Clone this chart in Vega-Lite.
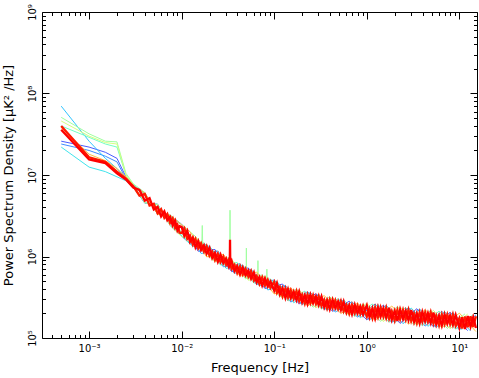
{
"$schema":"https://vega.github.io/schema/vega-lite/v6.json",
"width":435,"height":326,
"autosize":{"type":"none"},
"padding":{"left":42,"top":12,"right":2,"bottom":40},
"data":{"values":[
{"run":1,"f":0.0005,"p":2.6e7},{"run":1,"f":0.001,"p":2.2e7},{"run":1,"f":0.0015,"p":1.9e7},{"run":1,"f":0.002,"p":1.6e7},{"run":1,"f":0.0025,"p":9.5e6},{"run":1,"f":0.003,"p":7.5e6},{"run":1,"f":0.004,"p":6.0e6},{"run":1,"f":0.0055,"p":3.3e6},{"run":1,"f":0.0075,"p":3.2e6},
{"run":1,"f":0.01,"p":2.49e6},{"run":1,"f":0.0151,"p":1.16e6},{"run":1,"f":0.0229,"p":1.22e6},{"run":1,"f":0.0347,"p":6.51e5},{"run":1,"f":0.0525,"p":7.24e5},{"run":1,"f":0.0794,"p":4.05e5},{"run":1,"f":0.123,"p":4.59e5},{"run":1,"f":0.186,"p":2.62e5},{"run":1,"f":0.282,"p":3.50e5},{"run":1,"f":0.427,"p":2.12e5},{"run":1,"f":0.646,"p":2.83e5},{"run":1,"f":1.0,"p":1.67e5},{"run":1,"f":1.51,"p":2.53e5},{"run":1,"f":2.29,"p":1.51e5},{"run":1,"f":3.47,"p":2.29e5},{"run":1,"f":5.25,"p":1.37e5},{"run":1,"f":7.94,"p":2.07e5},{"run":1,"f":12.3,"p":1.23e5},
{"run":2,"f":0.0005,"p":2.4e7},{"run":2,"f":0.001,"p":2.0e7},{"run":2,"f":0.0015,"p":1.7e7},{"run":2,"f":0.002,"p":1.45e7},{"run":2,"f":0.0025,"p":9.0e6},{"run":2,"f":0.003,"p":7.2e6},{"run":2,"f":0.004,"p":4.5e6},{"run":2,"f":0.0055,"p":4.4e6},{"run":2,"f":0.0075,"p":2.4e6},
{"run":2,"f":0.0123,"p":1.43e6},{"run":2,"f":0.0186,"p":1.40e6},{"run":2,"f":0.0282,"p":7.48e5},{"run":2,"f":0.0427,"p":8.14e5},{"run":2,"f":0.0646,"p":4.54e5},{"run":2,"f":0.100,"p":5.16e5},{"run":2,"f":0.151,"p":2.76e5},{"run":2,"f":0.229,"p":3.70e5},{"run":2,"f":0.347,"p":2.23e5},{"run":2,"f":0.525,"p":2.98e5},{"run":2,"f":0.794,"p":1.80e5},{"run":2,"f":1.23,"p":2.61e5},{"run":2,"f":1.86,"p":1.55e5},{"run":2,"f":2.82,"p":2.36e5},{"run":2,"f":4.27,"p":1.40e5},{"run":2,"f":6.46,"p":2.13e5},{"run":2,"f":10.0,"p":1.26e5},{"run":2,"f":15.1,"p":1.92e5},
{"run":3,"f":0.0005,"p":7.0e7},{"run":3,"f":0.001,"p":2.6e7},{"run":3,"f":0.0015,"p":1.6e7},{"run":3,"f":0.002,"p":1.2e7},{"run":3,"f":0.0025,"p":9.0e6},{"run":3,"f":0.003,"p":7.0e6},{"run":3,"f":0.004,"p":5.9e6},{"run":3,"f":0.0055,"p":3.4e6},{"run":3,"f":0.0075,"p":3.1e6},
{"run":3,"f":0.0107,"p":2.32e6},{"run":3,"f":0.0162,"p":1.09e6},{"run":3,"f":0.0246,"p":1.17e6},{"run":3,"f":0.0372,"p":6.22e5},{"run":3,"f":0.0562,"p":6.96e5},{"run":3,"f":0.0851,"p":3.89e5},{"run":3,"f":0.132,"p":4.40e5},{"run":3,"f":0.200,"p":2.57e5},{"run":3,"f":0.302,"p":3.44e5},{"run":3,"f":0.457,"p":2.08e5},{"run":3,"f":0.692,"p":2.78e5},{"run":3,"f":1.07,"p":1.66e5},{"run":3,"f":1.62,"p":2.52e5},{"run":3,"f":2.46,"p":1.50e5},{"run":3,"f":3.72,"p":2.27e5},{"run":3,"f":5.62,"p":1.35e5},{"run":3,"f":8.51,"p":2.05e5},{"run":3,"f":13.2,"p":1.22e5},
{"run":4,"f":0.0005,"p":2.2e7},{"run":4,"f":0.001,"p":1.25e7},{"run":4,"f":0.0015,"p":1.1e7},{"run":4,"f":0.002,"p":9.5e6},{"run":4,"f":0.0025,"p":8.5e6},{"run":4,"f":0.003,"p":7.0e6},{"run":4,"f":0.004,"p":4.6e6},{"run":4,"f":0.0055,"p":4.3e6},{"run":4,"f":0.0075,"p":2.45e6},
{"run":4,"f":0.0132,"p":1.33e6},{"run":4,"f":0.0200,"p":1.34e6},{"run":4,"f":0.0302,"p":7.15e5},{"run":4,"f":0.0457,"p":7.83e5},{"run":4,"f":0.0692,"p":4.38e5},{"run":4,"f":0.107,"p":4.95e5},{"run":4,"f":0.162,"p":2.71e5},{"run":4,"f":0.246,"p":3.62e5},{"run":4,"f":0.372,"p":2.19e5},{"run":4,"f":0.562,"p":2.93e5},{"run":4,"f":0.851,"p":1.77e5},{"run":4,"f":1.32,"p":2.58e5},{"run":4,"f":2.00,"p":1.54e5},{"run":4,"f":3.02,"p":2.33e5},{"run":4,"f":4.57,"p":1.39e5},{"run":4,"f":6.92,"p":2.10e5},{"run":4,"f":10.7,"p":1.26e5},
{"run":5,"f":0.0005,"p":4.0e7},{"run":5,"f":0.001,"p":2.9e7},{"run":5,"f":0.0015,"p":2.4e7},{"run":5,"f":0.002,"p":2.2e7},{"run":5,"f":0.0025,"p":1.0e7},{"run":5,"f":0.003,"p":7.5e6},{"run":5,"f":0.004,"p":5.8e6},{"run":5,"f":0.0055,"p":3.35e6},{"run":5,"f":0.0075,"p":3.15e6},
{"run":5,"f":0.0115,"p":1.53e6},{"run":5,"f":0.0174,"p":1.47e6},{"run":5,"f":0.0263,"p":7.84e5},{"run":5,"f":0.0398,"p":8.46e5},{"run":5,"f":0.0603,"p":4.72e5},{"run":5,"f":0.0912,"p":5.31e5},{"run":5,"f":0.141,"p":2.85e5},{"run":5,"f":0.214,"p":3.76e5},{"run":5,"f":0.324,"p":2.27e5},{"run":5,"f":0.490,"p":3.04e5},{"run":5,"f":0.741,"p":1.84e5},{"run":5,"f":1.15,"p":2.62e5},{"run":5,"f":1.74,"p":1.56e5},{"run":5,"f":2.63,"p":2.37e5},{"run":5,"f":3.98,"p":1.41e5},{"run":5,"f":6.03,"p":2.14e5},{"run":5,"f":9.12,"p":1.28e5},{"run":5,"f":14.1,"p":1.94e5},
{"run":6,"f":0.0005,"p":5.1e7},{"run":6,"f":0.001,"p":3.2e7},{"run":6,"f":0.0015,"p":2.6e7},{"run":6,"f":0.002,"p":2.55e7},{"run":6,"f":0.0025,"p":1.05e7},{"run":6,"f":0.003,"p":7.8e6},{"run":6,"f":0.004,"p":6.1e6},{"run":6,"f":0.0055,"p":3.3e6},{"run":6,"f":0.0075,"p":3.25e6},
{"run":6,"f":0.0141,"p":1.76e6},{"run":6,"f":0.0165,"p":1.37e6},{"run":6,"f":0.0167,"p":2.4e6},{"run":6,"f":0.0169,"p":1.32e6},{"run":6,"f":0.0214,"p":9.04e5},{"run":6,"f":0.0324,"p":9.65e5},{"run":6,"f":0.0331,"p":9.36e5},{"run":6,"f":0.0333,"p":3.7e6},{"run":6,"f":0.0335,"p":9.2e5},{"run":6,"f":0.0490,"p":5.31e5},{"run":6,"f":0.0498,"p":5.35e5},{"run":6,"f":0.05,"p":1.27e6},{"run":6,"f":0.0502,"p":5.37e5},{"run":6,"f":0.0665,"p":5.78e5},{"run":6,"f":0.0667,"p":8.9e5},{"run":6,"f":0.0669,"p":5.77e5},{"run":6,"f":0.0741,"p":5.96e5},{"run":6,"f":0.0831,"p":5.07e5},{"run":6,"f":0.0833,"p":7.0e5},{"run":6,"f":0.0835,"p":5.04e5},{"run":6,"f":0.115,"p":3.21e5},{"run":6,"f":0.174,"p":3.97e5},{"run":6,"f":0.263,"p":2.39e5},{"run":6,"f":0.398,"p":3.20e5},{"run":6,"f":0.603,"p":1.94e5},{"run":6,"f":0.912,"p":2.61e5},{"run":6,"f":1.41,"p":1.60e5},{"run":6,"f":2.14,"p":2.43e5},{"run":6,"f":3.24,"p":1.45e5},{"run":6,"f":4.90,"p":2.19e5},{"run":6,"f":7.41,"p":1.31e5},{"run":6,"f":11.5,"p":1.98e5},
{"run":7,"f":0.0005,"p":4.6e7},{"run":7,"f":0.001,"p":3.0e7},{"run":7,"f":0.0015,"p":2.5e7},{"run":7,"f":0.002,"p":2.4e7},{"run":7,"f":0.0025,"p":1.0e7},{"run":7,"f":0.003,"p":7.6e6},{"run":7,"f":0.004,"p":4.55e6},{"run":7,"f":0.0055,"p":4.35e6},{"run":7,"f":0.0075,"p":2.4e6},
{"run":7,"f":0.01,"p":1.75e6},{"run":7,"f":0.0151,"p":1.64e6},{"run":7,"f":0.0229,"p":8.62e5},{"run":7,"f":0.0347,"p":9.22e5},{"run":7,"f":0.0525,"p":5.11e5},{"run":7,"f":0.0794,"p":5.74e5},{"run":7,"f":0.123,"p":3.08e5},{"run":7,"f":0.186,"p":3.89e5},{"run":7,"f":0.282,"p":2.35e5},{"run":7,"f":0.427,"p":3.15e5},{"run":7,"f":0.646,"p":1.90e5},{"run":7,"f":1.0,"p":2.67e5},{"run":7,"f":1.51,"p":1.59e5},{"run":7,"f":2.29,"p":2.41e5},{"run":7,"f":3.47,"p":1.44e5},{"run":7,"f":5.25,"p":2.18e5},{"run":7,"f":7.94,"p":1.30e5},{"run":7,"f":12.3,"p":1.97e5},
{"run":8,"f":0.0005,"p":3.8e7},{"run":8,"f":0.001,"p":1.8e7},{"run":8,"f":0.0015,"p":1.5e7},{"run":8,"f":0.002,"p":1.2e7},{"run":8,"f":0.0025,"p":9.5e6},{"run":8,"f":0.003,"p":7.3e6},{"run":8,"f":0.004,"p":6.0e6},{"run":8,"f":0.0055,"p":3.3e6},{"run":8,"f":0.0075,"p":3.2e6},
{"run":8,"f":0.0123,"p":2.02e6},{"run":8,"f":0.0186,"p":9.91e5},{"run":8,"f":0.0282,"p":1.06e6},{"run":8,"f":0.0427,"p":5.75e5},{"run":8,"f":0.0646,"p":6.44e5},{"run":8,"f":0.100,"p":3.47e5},{"run":8,"f":0.151,"p":4.11e5},{"run":8,"f":0.229,"p":2.48e5},{"run":8,"f":0.347,"p":3.32e5},{"run":8,"f":0.525,"p":2.00e5},{"run":8,"f":0.794,"p":2.68e5},{"run":8,"f":1.23,"p":1.64e5},{"run":8,"f":1.86,"p":2.47e5},{"run":8,"f":2.82,"p":1.48e5},{"run":8,"f":4.27,"p":2.23e5},{"run":8,"f":6.46,"p":1.34e5},{"run":8,"f":10.0,"p":2.02e5},{"run":8,"f":15.1,"p":1.20e5},
{"run":9,"f":0.0005,"p":4.0e7},{"run":9,"f":0.001,"p":1.65e7},{"run":9,"f":0.0015,"p":1.45e7},{"run":9,"f":0.002,"p":1.1e7},{"run":9,"f":0.0025,"p":9.0e6},{"run":9,"f":0.003,"p":7.3e6},{"run":9,"f":0.0035,"p":5.57e6},{"run":9,"f":0.004,"p":5.87e6},{"run":9,"f":0.0045,"p":4.23e6},{"run":9,"f":0.005,"p":4.43e6},{"run":9,"f":0.0055,"p":3.39e6},{"run":9,"f":0.006,"p":3.81e6},{"run":9,"f":0.0065,"p":2.97e6},{"run":9,"f":0.007,"p":3.32e6},{"run":9,"f":0.0075,"p":2.60e6},{"run":9,"f":0.008,"p":2.93e6},{"run":9,"f":0.0085,"p":2.24e6},{"run":9,"f":0.009,"p":2.46e6},{"run":9,"f":0.0095,"p":1.96e6},
{"run":9,"f":0.0100,"p":1.94e6},{"run":9,"f":0.0107,"p":2.21e6},{"run":9,"f":0.0115,"p":1.65e6},{"run":9,"f":0.0123,"p":1.81e6},{"run":9,"f":0.0132,"p":1.40e6},{"run":9,"f":0.0141,"p":1.64e6},{"run":9,"f":0.0151,"p":1.26e6},{"run":9,"f":0.0162,"p":1.45e6},{"run":9,"f":0.0174,"p":1.15e6},{"run":9,"f":0.0186,"p":1.34e6},{"run":9,"f":0.0200,"p":1.02e6},{"run":9,"f":0.0214,"p":1.15e6},{"run":9,"f":0.0229,"p":9.04e5},{"run":9,"f":0.0246,"p":1.08e6},{"run":9,"f":0.0263,"p":8.54e5},{"run":9,"f":0.0282,"p":9.99e5},{"run":9,"f":0.0302,"p":7.89e5},{"run":9,"f":0.0324,"p":9.20e5},{"run":9,"f":0.0347,"p":7.01e5},{"run":9,"f":0.0372,"p":7.88e5},{"run":9,"f":0.0398,"p":6.26e5},{"run":9,"f":0.0427,"p":7.57e5},{"run":9,"f":0.0457,"p":6.02e5},{"run":9,"f":0.0490,"p":7.08e5},{"run":9,"f":0.0525,"p":5.64e5},{"run":9,"f":0.0562,"p":6.64e5},{"run":9,"f":0.0603,"p":5.08e5},{"run":9,"f":0.0646,"p":5.76e5},{"run":9,"f":0.0692,"p":4.59e5},{"run":9,"f":0.0741,"p":5.55e5},{"run":9,"f":0.0794,"p":4.41e5},{"run":9,"f":0.0851,"p":5.19e5},{"run":9,"f":0.0912,"p":4.13e5},
{"run":9,"f":0.100,"p":4.91e5},{"run":9,"f":0.107,"p":3.60e5},{"run":9,"f":0.115,"p":4.21e5},{"run":9,"f":0.123,"p":3.24e5},{"run":9,"f":0.132,"p":4.07e5},{"run":9,"f":0.141,"p":3.13e5},{"run":9,"f":0.151,"p":3.85e5},{"run":9,"f":0.162,"p":3.03e5},{"run":9,"f":0.174,"p":3.77e5},{"run":9,"f":0.186,"p":2.83e5},{"run":9,"f":0.200,"p":3.39e5},{"run":9,"f":0.214,"p":2.65e5},{"run":9,"f":0.229,"p":3.41e5},{"run":9,"f":0.246,"p":2.68e5},{"run":9,"f":0.263,"p":3.35e5},{"run":9,"f":0.282,"p":2.62e5},{"run":9,"f":0.302,"p":3.27e5},{"run":9,"f":0.324,"p":2.46e5},{"run":9,"f":0.347,"p":2.94e5},{"run":9,"f":0.372,"p":2.30e5},{"run":9,"f":0.398,"p":2.96e5},{"run":9,"f":0.427,"p":2.33e5},{"run":9,"f":0.457,"p":2.90e5},{"run":9,"f":0.490,"p":2.27e5},{"run":9,"f":0.525,"p":2.84e5},{"run":9,"f":0.562,"p":2.13e5},{"run":9,"f":0.603,"p":2.54e5},{"run":9,"f":0.646,"p":1.99e5},{"run":9,"f":0.692,"p":2.56e5},{"run":9,"f":0.741,"p":2.02e5},{"run":9,"f":0.794,"p":2.51e5},{"run":9,"f":0.851,"p":1.98e5},{"run":9,"f":0.912,"p":2.48e5},
{"run":9,"f":1.00,"p":1.84e5},{"run":9,"f":1.07,"p":2.29e5},{"run":9,"f":1.15,"p":1.75e5},{"run":9,"f":1.23,"p":2.37e5},{"run":9,"f":1.32,"p":1.81e5},{"run":9,"f":1.41,"p":2.37e5},{"run":9,"f":1.51,"p":1.82e5},{"run":9,"f":1.62,"p":2.37e5},{"run":9,"f":1.74,"p":1.72e5},{"run":9,"f":1.86,"p":2.14e5},{"run":9,"f":2.00,"p":1.64e5},{"run":9,"f":2.14,"p":2.21e5},{"run":9,"f":2.29,"p":1.70e5},{"run":9,"f":2.46,"p":2.22e5},{"run":9,"f":2.63,"p":1.69e5},{"run":9,"f":2.82,"p":2.22e5},{"run":9,"f":3.02,"p":1.61e5},{"run":9,"f":3.24,"p":2.00e5},{"run":9,"f":3.47,"p":1.53e5},{"run":9,"f":3.72,"p":2.07e5},{"run":9,"f":3.98,"p":1.58e5},{"run":9,"f":4.27,"p":2.07e5},{"run":9,"f":4.57,"p":1.59e5},{"run":9,"f":4.90,"p":2.07e5},{"run":9,"f":5.25,"p":1.50e5},{"run":9,"f":5.62,"p":1.87e5},{"run":9,"f":6.03,"p":1.43e5},{"run":9,"f":6.46,"p":1.94e5},{"run":9,"f":6.92,"p":1.48e5},{"run":9,"f":7.41,"p":1.94e5},{"run":9,"f":7.94,"p":1.48e5},{"run":9,"f":8.51,"p":1.94e5},{"run":9,"f":9.12,"p":1.41e5},
{"run":9,"f":10.0,"p":1.76e5},{"run":9,"f":10.7,"p":1.31e5},{"run":9,"f":11.5,"p":1.84e5},{"run":9,"f":12.3,"p":1.36e5},{"run":9,"f":13.2,"p":1.85e5},{"run":9,"f":14.1,"p":1.37e5},{"run":9,"f":15.1,"p":1.85e5},
{"run":10,"f":0.0005,"p":3.6e7},{"run":10,"f":0.001,"p":1.55e7},{"run":10,"f":0.0015,"p":1.4e7},{"run":10,"f":0.002,"p":1.05e7},{"run":10,"f":0.0025,"p":8.8e6},{"run":10,"f":0.003,"p":7.0e6},{"run":10,"f":0.0035,"p":6.54e6},{"run":10,"f":0.004,"p":4.83e6},{"run":10,"f":0.0045,"p":5.21e6},{"run":10,"f":0.005,"p":3.77e6},{"run":10,"f":0.0055,"p":4.07e6},{"run":10,"f":0.006,"p":3.10e6},{"run":10,"f":0.0065,"p":3.57e6},{"run":10,"f":0.007,"p":2.79e6},{"run":10,"f":0.0075,"p":3.06e6},{"run":10,"f":0.008,"p":2.41e6},{"run":10,"f":0.0085,"p":2.76e6},{"run":10,"f":0.009,"p":2.09e6},{"run":10,"f":0.0095,"p":2.36e6},
{"run":10,"f":0.0100,"p":2.31e6},{"run":10,"f":0.0107,"p":1.78e6},{"run":10,"f":0.0115,"p":2.07e6},{"run":10,"f":0.0123,"p":1.51e6},{"run":10,"f":0.0132,"p":1.71e6},{"run":10,"f":0.0141,"p":1.30e6},{"run":10,"f":0.0151,"p":1.55e6},{"run":10,"f":0.0162,"p":1.20e6},{"run":10,"f":0.0174,"p":1.37e6},{"run":10,"f":0.0186,"p":1.08e6},{"run":10,"f":0.0200,"p":1.28e6},{"run":10,"f":0.0214,"p":9.60e5},{"run":10,"f":0.0229,"p":1.11e6},{"run":10,"f":0.0246,"p":8.63e5},{"run":10,"f":0.0263,"p":1.05e6},{"run":10,"f":0.0282,"p":8.26e5},{"run":10,"f":0.0302,"p":9.42e5},{"run":10,"f":0.0324,"p":7.42e5},{"run":10,"f":0.0331,"p":7.8e5},{"run":10,"f":0.0333,"p":1.6e6},{"run":10,"f":0.0335,"p":8.0e5},{"run":10,"f":0.0347,"p":8.80e5},{"run":10,"f":0.0372,"p":6.60e5},{"run":10,"f":0.0398,"p":7.67e5},{"run":10,"f":0.0427,"p":6.03e5},{"run":10,"f":0.0457,"p":7.38e5},{"run":10,"f":0.0490,"p":5.86e5},{"run":10,"f":0.0525,"p":6.73e5},{"run":10,"f":0.0562,"p":5.35e5},{"run":10,"f":0.0603,"p":6.38e5},{"run":10,"f":0.0646,"p":4.83e5},{"run":10,"f":0.0692,"p":5.62e5},{"run":10,"f":0.0741,"p":4.41e5},{"run":10,"f":0.0794,"p":5.40e5},{"run":10,"f":0.0851,"p":4.29e5},{"run":10,"f":0.0912,"p":4.94e5},
{"run":10,"f":0.100,"p":3.81e5},{"run":10,"f":0.107,"p":4.72e5},{"run":10,"f":0.115,"p":3.42e5},{"run":10,"f":0.123,"p":4.11e5},{"run":10,"f":0.132,"p":3.11e5},{"run":10,"f":0.141,"p":3.98e5},{"run":10,"f":0.151,"p":3.08e5},{"run":10,"f":0.162,"p":3.73e5},{"run":10,"f":0.174,"p":2.93e5},{"run":10,"f":0.186,"p":3.71e5},{"run":10,"f":0.200,"p":2.75e5},{"run":10,"f":0.214,"p":3.37e5},{"run":10,"f":0.229,"p":2.61e5},{"run":10,"f":0.246,"p":3.40e5},{"run":10,"f":0.263,"p":2.67e5},{"run":10,"f":0.282,"p":3.24e5},{"run":10,"f":0.302,"p":2.54e5},{"run":10,"f":0.324,"p":3.22e5},{"run":10,"f":0.347,"p":2.38e5},{"run":10,"f":0.372,"p":2.92e5},{"run":10,"f":0.398,"p":2.26e5},{"run":10,"f":0.427,"p":2.95e5},{"run":10,"f":0.457,"p":2.32e5},{"run":10,"f":0.490,"p":2.81e5},{"run":10,"f":0.525,"p":2.20e5},{"run":10,"f":0.562,"p":2.79e5},{"run":10,"f":0.603,"p":2.06e5},{"run":10,"f":0.646,"p":2.53e5},{"run":10,"f":0.692,"p":1.96e5},{"run":10,"f":0.741,"p":2.56e5},{"run":10,"f":0.794,"p":2.01e5},{"run":10,"f":0.851,"p":2.44e5},{"run":10,"f":0.912,"p":1.93e5},
{"run":10,"f":1.00,"p":2.52e5},{"run":10,"f":1.07,"p":1.80e5},{"run":10,"f":1.15,"p":2.31e5},{"run":10,"f":1.23,"p":1.74e5},{"run":10,"f":1.32,"p":2.39e5},{"run":10,"f":1.41,"p":1.83e5},{"run":10,"f":1.51,"p":2.31e5},{"run":10,"f":1.62,"p":1.77e5},{"run":10,"f":1.74,"p":2.35e5},{"run":10,"f":1.86,"p":1.68e5},{"run":10,"f":2.00,"p":2.16e5},{"run":10,"f":2.14,"p":1.62e5},{"run":10,"f":2.29,"p":2.24e5},{"run":10,"f":2.46,"p":1.71e5},{"run":10,"f":2.63,"p":2.16e5},{"run":10,"f":2.82,"p":1.65e5},{"run":10,"f":3.02,"p":2.20e5},{"run":10,"f":3.24,"p":1.57e5},{"run":10,"f":3.47,"p":2.01e5},{"run":10,"f":3.72,"p":1.52e5},{"run":10,"f":3.98,"p":2.09e5},{"run":10,"f":4.27,"p":1.60e5},{"run":10,"f":4.57,"p":2.02e5},{"run":10,"f":4.90,"p":1.54e5},{"run":10,"f":5.25,"p":2.05e5},{"run":10,"f":5.62,"p":1.47e5},{"run":10,"f":6.03,"p":1.88e5},{"run":10,"f":6.46,"p":1.42e5},{"run":10,"f":6.92,"p":1.95e5},{"run":10,"f":7.41,"p":1.50e5},{"run":10,"f":7.94,"p":1.89e5},{"run":10,"f":8.51,"p":1.45e5},{"run":10,"f":9.12,"p":1.92e5},
{"run":10,"f":10.0,"p":1.34e5},{"run":10,"f":10.7,"p":1.79e5},{"run":10,"f":11.5,"p":1.29e5},{"run":10,"f":12.3,"p":1.86e5},{"run":10,"f":13.2,"p":1.38e5},{"run":10,"f":14.1,"p":1.80e5},{"run":10,"f":15.1,"p":1.33e5}
]},
"layer":[
{"mark":{"type":"line","clip":true},
 "encoding":{
  "x":{"field":"f","type":"quantitative","scale":{"type":"log","domain":[0.00031,15.5],"nice":false},
   "axis":{"orient":"bottom","title":"Frequency [Hz]","titlePadding":5,
    "values":[0.0004,0.0005,0.0006,0.0007,0.0008,0.0009,0.001,0.002,0.003,0.004,0.005,0.006,0.007,0.008,0.009,0.01,0.02,0.03,0.04,0.05,0.06,0.07,0.08,0.09,0.1,0.2,0.3,0.4,0.5,0.6,0.7,0.8,0.9,1,2,3,4,5,6,7,8,9,10],
    "labelExpr":"datum.value==0.001?'10⁻³':datum.value==0.01?'10⁻²':datum.value==0.1?'10⁻¹':datum.value==1?'10⁰':datum.value==10?'10¹':''",
    "tickSize":{"condition":{"test":"indexof([0.001,0.01,0.1,1,10],datum.value)>=0","value":-7},"value":-3.5},
    "labelPadding":12}},
  "y":{"field":"p","type":"quantitative","scale":{"type":"log","domain":[100000,1000000000],"nice":false},
   "axis":{"orient":"left","title":"Power Spectrum Density [μK² /Hz]","titlePadding":8,"labelAngle":-90,
    "values":[100000,200000,300000,400000,500000,600000,700000,800000,900000,1000000,2000000,3000000,4000000,5000000,6000000,7000000,8000000,9000000,10000000,20000000,30000000,40000000,50000000,60000000,70000000,80000000,90000000,100000000,200000000,300000000,400000000,500000000,600000000,700000000,800000000,900000000,1000000000],
    "labelExpr":"datum.value==100000?'10⁵':datum.value==1000000?'10⁶':datum.value==10000000?'10⁷':datum.value==100000000?'10⁸':datum.value==1000000000?'10⁹':''",
    "tickSize":{"condition":{"test":"indexof([100000,1000000,10000000,100000000,1000000000],datum.value)>=0","value":-7},"value":-3.5},
    "labelPadding":12}},
  "color":{"field":"run","type":"nominal","legend":null,
   "scale":{"domain":[1,2,3,4,5,6,7,8,9,10],"range":["#4a5cff","#3f8cff","#30c4ff","#40e4ec","#70ffc4","#a0ffa0","#d4ff80","#ffc040","#ff1a00","#ff0000"]}},
  "strokeWidth":{"condition":{"test":"datum.run>=9","value":2.3},"value":1}
 }},
{"mark":{"type":"point","opacity":0},
 "encoding":{
  "x":{"field":"f","type":"quantitative","axis":{"orient":"top","title":null,"labels":false,
    "values":[0.0004,0.0005,0.0006,0.0007,0.0008,0.0009,0.001,0.002,0.003,0.004,0.005,0.006,0.007,0.008,0.009,0.01,0.02,0.03,0.04,0.05,0.06,0.07,0.08,0.09,0.1,0.2,0.3,0.4,0.5,0.6,0.7,0.8,0.9,1,2,3,4,5,6,7,8,9,10],
    "tickSize":{"condition":{"test":"indexof([0.001,0.01,0.1,1,10],datum.value)>=0","value":-7},"value":-3.5}}},
  "y":{"field":"p","type":"quantitative","axis":{"orient":"right","title":null,"labels":false,
    "values":[100000,200000,300000,400000,500000,600000,700000,800000,900000,1000000,2000000,3000000,4000000,5000000,6000000,7000000,8000000,9000000,10000000,20000000,30000000,40000000,50000000,60000000,70000000,80000000,90000000,100000000,200000000,300000000,400000000,500000000,600000000,700000000,800000000,900000000,1000000000],
    "tickSize":{"condition":{"test":"indexof([100000,1000000,10000000,100000000,1000000000],datum.value)>=0","value":-7},"value":-3.5}}}
 }}
],
"resolve":{"axis":{"x":"independent","y":"independent"}},
"config":{"view":{"stroke":null},
 "axis":{"grid":false,"domainColor":"#000000","domainWidth":1,"tickColor":"#000000","tickWidth":1,"labelColor":"#000000","titleColor":"#000000","labelFont":"DejaVu Sans","titleFont":"DejaVu Sans","labelFontSize":10,"titleFontSize":13,"titleFontWeight":"normal","labelOverlap":false,"labelFlush":false,"labelBound":false}}
}
